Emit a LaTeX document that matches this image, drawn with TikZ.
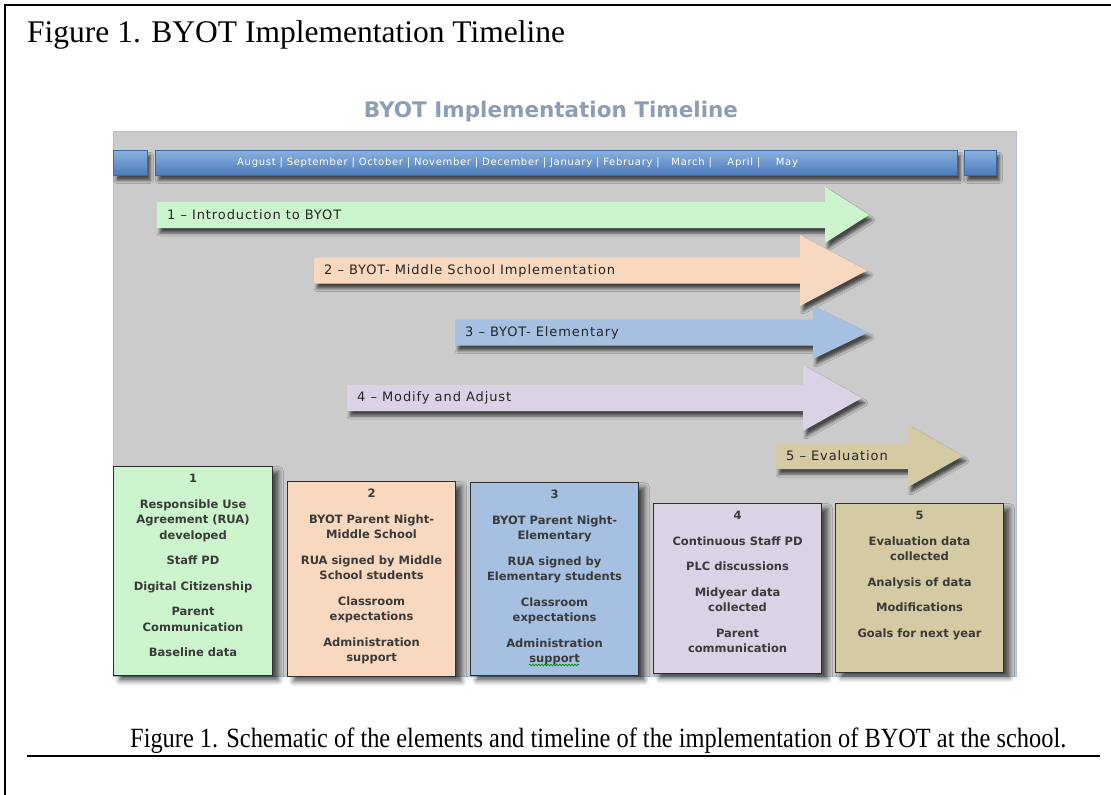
\documentclass[tikz,border=0pt]{standalone}
\usepackage{fontspec}
\setmainfont{Liberation Serif}
\newfontfamily\chartfont{DejaVu Sans}
\newfontfamily\spacedfont[LetterSpace=7.0]{DejaVu Sans}
\usetikzlibrary{shadows.blur,decorations.pathmorphing}

\definecolor{panelgray}{HTML}{CBCBCB}
\definecolor{panelrim}{HTML}{A9C1DD}
\definecolor{headblue}{HTML}{8D9DB6}
\definecolor{bartop}{HTML}{8AB0DF}
\definecolor{barbottom}{HTML}{4C7BBB}
\definecolor{barrim}{HTML}{3F68A3}
\definecolor{phasegreen}{HTML}{CDF5CD}
\definecolor{phaseorange}{HTML}{F8D9BF}
\definecolor{phaseblue}{HTML}{A5C0E1}
\definecolor{phaselilac}{HTML}{DCD2E6}
\definecolor{phasetan}{HTML}{D4CAA3}
\definecolor{boxrim}{HTML}{2F2F2F}
\definecolor{inktext}{HTML}{3A3A3A}

% #1 name, #2 fill, #3 tail x, #4 head x, #5 tip x, #6 mid y, #7 half head, #8 label
\newcommand\phasearrow[8]{%
  \fill[#2, phaseshadow] (#3,#6-13) -- (#4,#6-13) -- (#4,#6-#7) -- (#5,#6)
    -- (#4,#6+#7) -- (#4,#6+13) -- (#3,#6+13) -- cycle;
  \node[phaselabel] (#1) at (#3+10,#6) {#8};
}

\begin{document}
\begin{tikzpicture}[x=1pt, y=-1pt,
    every node/.style={inner sep=0pt},
    frame/.style={line width=2pt},
    panel/.style={fill=panelgray, draw=panelrim, line width=1pt},
    phaseshadow/.style={blur shadow={shadow xshift=3pt, shadow yshift=-5pt,
        shadow blur radius=3pt, shadow opacity=65}},
    boxshadow/.style={blur shadow={shadow xshift=6pt, shadow yshift=-5pt,
        shadow blur radius=5pt, shadow opacity=65}},
    bar/.style={top color=bartop, bottom color=barbottom, draw=barrim,
        line width=0.8pt, minimum height=25pt, anchor=north west, phaseshadow},
    monthtext/.style={font=\spacedfont\fontsize{10}{12}\selectfont,
        text=white, anchor=west},
    phaselabel/.style={font=\spacedfont\fontsize{13}{15}\selectfont,
        text=black!85, anchor=west},
    stagebox/.style={draw=boxrim, line width=1.1pt, anchor=north west, boxshadow},
    stagetext/.style={font=\chartfont\bfseries\fontsize{11.5}{15.5}\selectfont,
        text=inktext, align=center, anchor=north}
  ]

  \useasboundingbox (0,0) rectangle (1111,795);

  % page frame
  \draw[frame] (5,795) -- (5,5) -- (1111,5);

  % figure title
  \node[anchor=base west, font=\fontsize{31.5}{36}\selectfont] (title)
    at (27,42) {Figure 1. BYOT Implementation Timeline};

  % grey panel of the chart
  \node[panel, minimum width=903pt, minimum height=545pt, anchor=north west]
    (panel) at (113,131) {};
  \node[anchor=base, font=\chartfont\bfseries\fontsize{21.5}{24}\selectfont,
    text=headblue] (charttitle) at (551,117) {BYOT Implementation Timeline};

  % month bar
  \node[bar, minimum width=34pt] (capleft) at (113,150) {};
  \node[bar, minimum width=802pt] (months) at (155,150) {};
  \node[bar, minimum width=32pt] (capright) at (964,150) {};
  \node[monthtext] (monthnames) at (237,163)
    {August | September | October | November | December | January | February |~~~March |~~~~April |~~~~May};

  % phase arrows
  \phasearrow{p1}{phasegreen}{157}{825}{869}{215}{28}{1 – Introduction to BYOT}
  \phasearrow{p2}{phaseorange}{314}{800}{867}{270.5}{35.5}{2 – BYOT- Middle School Implementation}
  \phasearrow{p3}{phaseblue}{455}{813}{868}{332.5}{26.5}{3 – BYOT- Elementary}
  \phasearrow{p4}{phaselilac}{347}{803}{862}{398}{33}{4 – Modify and Adjust}
  \phasearrow{p5}{phasetan}{776}{908}{963}{456}{31}{5 – Evaluation}

  % stage boxes
  \node[stagebox, fill=phasegreen, minimum width=159pt, minimum height=209pt]
    (b1) at (113,466) {};
  \node[stagebox, fill=phaseorange, minimum width=168pt, minimum height=195pt]
    (b2) at (287,481) {};
  \node[stagebox, fill=phaseblue, minimum width=168pt, minimum height=193pt]
    (b3) at (470,482) {};
  \node[stagebox, fill=phaselilac, minimum width=168pt, minimum height=170pt]
    (b4) at (653,503) {};
  \node[stagebox, fill=phasetan, minimum width=168pt, minimum height=169pt]
    (b5) at (835,503) {};

  \node[stagetext] (t1) at ([yshift=-8pt]b1.north) {1\\[10pt]
    Responsible Use\\Agreement (RUA)\\developed\\[10pt]
    Staff PD\\[10pt]Digital Citizenship\\[10pt]
    Parent\\Communication\\[10pt]Baseline data};
  \node[stagetext] (t2) at ([yshift=-8pt]b2.north) {2\\[10pt]
    BYOT Parent Night-\\Middle School\\[10pt]
    RUA signed by Middle\\School students\\[10pt]
    Classroom\\expectations\\[10pt]Administration\\support};
  \node[stagetext] (t3) at ([yshift=-8pt]b3.north) {3\\[10pt]
    BYOT Parent Night-\\Elementary\\[10pt]
    RUA signed by\\Elementary students\\[10pt]
    Classroom\\expectations\\[10pt]Administration\\support};
  \node[stagetext] (t4) at ([yshift=-8pt]b4.north) {4\\[10pt]
    Continuous Staff PD\\[10pt]PLC discussions\\[10pt]
    Midyear data\\collected\\[10pt]Parent\\communication};
  \node[stagetext] (t5) at ([yshift=-8pt]b5.north) {5\\[10pt]
    Evaluation data\\collected\\[10pt]Analysis of data\\[10pt]
    Modifications\\[10pt]Goals for next year};

  % spell-check squiggle under "support"
  \draw[green!55!black, line width=0.7pt,
    decorate, decoration={snake, amplitude=0.8pt, segment length=3pt}]
    (529,665) -- (579,665);

  % caption and rule
  \node[anchor=base west] (caption) at (130,747)
    {\resizebox{936pt}{19.6pt}{\fontsize{28.7}{32}\selectfont
      Figure 1. Schematic of the elements and timeline of the implementation of BYOT at the school.}};
  \draw[line width=1.2pt] (27,756) -- (1100,756);

\end{tikzpicture}
\end{document}
